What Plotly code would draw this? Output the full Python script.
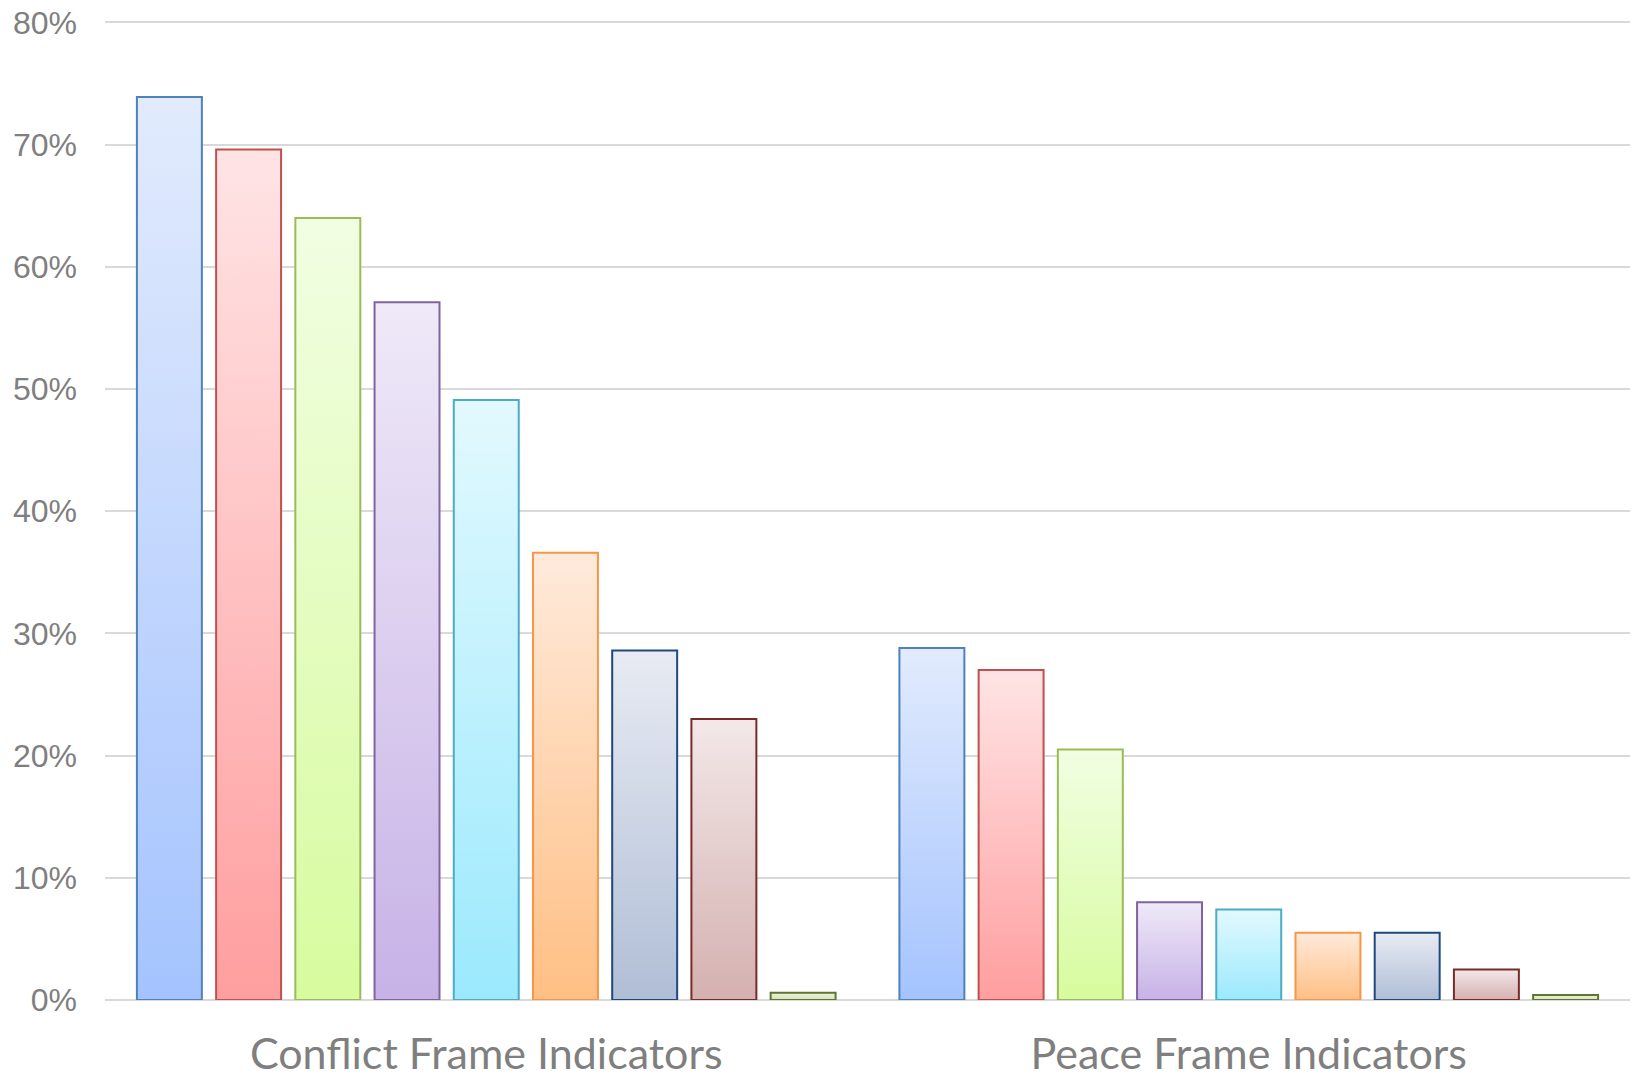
import plotly.graph_objects as go

# Share of coverage for each indicator, in percent, by frame group
groups = ["Conflict Frame Indicators", "Peace Frame Indicators"]
conflict_values = [73.9, 69.6, 64.0, 57.1, 49.1, 36.6, 28.6, 23.0, 0.6]
peace_values = [28.8, 27.0, 20.5, 8.0, 7.4, 5.5, 5.5, 2.5, 0.4]
y_tick_values = [0, 10, 20, 30, 40, 50, 60, 70, 80]
y_tick_labels = ["0%", "10%", "20%", "30%", "40%", "50%", "60%", "70%", "80%"]

# Per-series styling: (bottom of gradient, top of gradient, outline)
series_styles = [
    ("#a4c3fe", "#e2ebfd", "#4f81bd"),
    ("#ff9e9f", "#ffe4e5", "#c0504d"),
    ("#d7fb9e", "#f1fee2", "#9bbb59"),
    ("#c7b2e6", "#efe9f8", "#8064a2"),
    ("#9be9fd", "#e2f9fe", "#4bacc6"),
    ("#ffbf84", "#ffeadb", "#f79646"),
    ("#b0bed6", "#e8ebf3", "#1f497d"),
    ("#d5b0b0", "#f3e8e8", "#772c2a"),
    ("#d6e3bb", "#ecf2df", "#5f7530"),
]

n_series = len(series_styles)
group_fraction = 0.935          # share of each category occupied by the cluster
slot = group_fraction / n_series
bar_width = slot * 0.82

fig = go.Figure()

for g_idx, values in enumerate([conflict_values, peace_values]):
    for s_idx, (value, (bottom, top, edge)) in enumerate(zip(values, series_styles)):
        center = g_idx + (s_idx - (n_series - 1) / 2) * slot
        x0, x1 = center - bar_width / 2, center + bar_width / 2
        fig.add_trace(go.Scatter(
            x=[x0, x0, x1, x1, x0],
            y=[0, value, value, 0, 0],
            mode="lines",
            fill="toself",
            fillgradient=dict(type="vertical",
                              colorscale=[[0, bottom], [1, top]]),
            line=dict(color=edge, width=2),
            hoverinfo="skip",
            showlegend=False,
        ))

fig.update_layout(
    width=1636,
    height=1083,
    margin=dict(l=105, r=6, t=20, b=83),
    paper_bgcolor="white",
    plot_bgcolor="white",
    font=dict(family="Liberation Sans, Arial, sans-serif", color="#7f7f7f"),
    xaxis=dict(
        range=[-0.5, 1.5],
        tickvals=[0, 1],
        ticktext=groups,
        tickfont=dict(family="Lato, Carlito, sans-serif", size=43, color="#7f7f7f"),
        showgrid=False,
        zeroline=False,
        showline=False,
        ticks="",
        ticklabelstandoff=25,
        automargin=False,
        fixedrange=True,
    ),
    yaxis=dict(
        range=[0, 80.2],
        tickvals=y_tick_values,
        ticktext=y_tick_labels,
        tickfont=dict(size=32, color="#7f7f7f"),
        showgrid=True,
        gridcolor="#d9d9d9",
        gridwidth=2,
        zeroline=True,
        zerolinecolor="#d9d9d9",
        zerolinewidth=2,
        showline=False,
        ticks="",
        ticklabelstandoff=27,
        automargin=False,
        fixedrange=True,
    ),
)

fig.write_html("out.html")
